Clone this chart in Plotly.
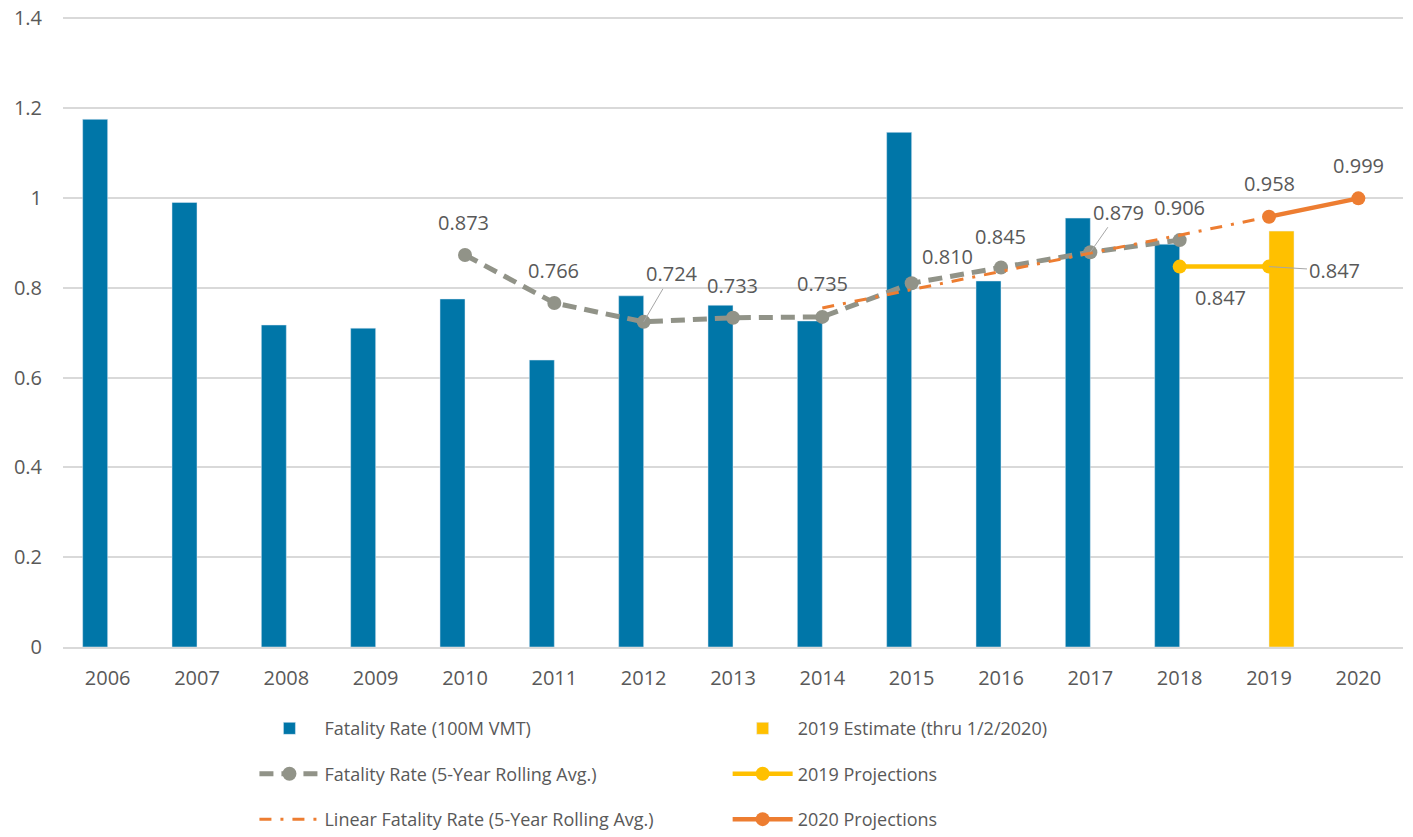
import plotly.graph_objects as go

COLOR_BLUE = "#0076A8"
COLOR_YELLOW = "#FFC000"
COLOR_ORANGE = "#ED7D31"
COLOR_GRAY = "#919388"
COLOR_TEXT = "#595959"
COLOR_GRID = "#D9D9D9"
FONT = "Open Sans"

years = [str(y) for y in range(2006, 2021)]

# annual fatality rate per 100M VMT
rate_years = [str(y) for y in range(2006, 2019)]
rate_values = [1.175, 0.990, 0.717, 0.710, 0.775, 0.639, 0.782, 0.761, 0.726,
               1.146, 0.815, 0.955, 0.897]

estimate_years = ["2019"]
estimate_values = [0.926]

rolling_years = [str(y) for y in range(2010, 2019)]
rolling_values = [0.873, 0.766, 0.724, 0.733, 0.735, 0.810, 0.845, 0.879, 0.906]

trend_years = [str(y) for y in range(2014, 2020)]
trend_values = [0.755, 0.796, 0.836, 0.877, 0.917, 0.958]

proj19_years = ["2018", "2019"]
proj19_values = [0.847, 0.847]

proj20_years = ["2019", "2020"]
proj20_values = [0.958, 0.999]

y_ticks = [0, 0.2, 0.4, 0.6, 0.8, 1.0, 1.2, 1.4]
y_tick_text = ["0", "0.2", "0.4", "0.6", "0.8", "1", "1.2", "1.4"]

BAR_W = 0.28

fig = go.Figure()

fig.add_trace(go.Bar(
    name="Fatality Rate (100M VMT)",
    x=rate_years, y=rate_values,
    width=BAR_W, offset=-BAR_W,
    marker_color=COLOR_BLUE,
    legend="legend", legendgroup="a",
))
fig.add_trace(go.Bar(
    name="2019 Estimate (thru 1/2/2020)",
    x=estimate_years, y=estimate_values,
    width=BAR_W, offset=0,
    marker_color=COLOR_YELLOW,
    legend="legend2", legendgroup="b",
))
fig.add_trace(go.Scatter(
    name="Fatality Rate (5-Year Rolling Avg.)",
    x=rolling_years, y=rolling_values,
    mode="lines+markers",
    line=dict(color=COLOR_GRAY, width=5, dash="14px,8px"),
    marker=dict(size=14, color=COLOR_GRAY),
    legend="legend", legendgroup="c",
))
fig.add_trace(go.Scatter(
    name="2019 Projections",
    x=proj19_years, y=proj19_values,
    mode="lines+markers",
    line=dict(color=COLOR_YELLOW, width=4.5),
    marker=dict(size=14, color=COLOR_YELLOW),
    legend="legend2", legendgroup="d",
))
fig.add_trace(go.Scatter(
    name="Linear Fatality Rate (5-Year Rolling Avg.)",
    x=trend_years, y=trend_values,
    mode="lines",
    line=dict(color=COLOR_ORANGE, width=3, dash="12px,9px,3px,9px"),
    legend="legend", legendgroup="e",
))
fig.add_trace(go.Scatter(
    name="2020 Projections",
    x=proj20_years, y=proj20_values,
    mode="lines+markers",
    line=dict(color=COLOR_ORANGE, width=4.5),
    marker=dict(size=14, color=COLOR_ORANGE),
    legend="legend2", legendgroup="f",
))

# data labels (year, value, dx, dy, leader line)
label_pos = [
    ("2010", 0.873, -2, -32, False),
    ("2011", 0.766, -1, -32, False),
    ("2012", 0.724, 28, -48, True),
    ("2013", 0.733, -1, -32, False),
    ("2014", 0.735, 0, -33, False),
    ("2015", 0.810, 36, -27, False),
    ("2016", 0.845, -1, -31, False),
    ("2017", 0.879, 28, -40, True),
    ("2018", 0.906, 0, -33, False),
    ("2019", 0.958, 0, -33, False),
    ("2020", 0.999, 0, -33, False),
    ("2018", 0.847, 41, 31, False),
    ("2019", 0.847, 65, 4, True),
]
for yr, val, dx, dy, leader in label_pos:
    # numeric-looking category names must be passed as index
    xi = years.index(yr)
    if leader:
        fig.add_annotation(
            x=xi, y=val, text=f"{val:.3f}", showarrow=True, arrowhead=0,
            arrowwidth=1, arrowcolor="#A6A6A6", ax=dx, ay=dy, standoff=0,
            font=dict(size=20, color=COLOR_TEXT, family=FONT),
        )
    else:
        fig.add_annotation(
            x=xi, y=val, text=f"{val:.3f}", showarrow=False,
            xshift=dx, yshift=-dy,
            font=dict(size=20, color=COLOR_TEXT, family=FONT),
        )

legend_style = dict(
    orientation="v", yanchor="top", xanchor="left",
    xref="container", yref="container",
    font=dict(size=18, color=COLOR_TEXT, family=FONT),
    tracegroupgap=19, itemwidth=60, bgcolor="rgba(0,0,0,0)",
)

# page body adds an 8px margin, so the figure is 8px smaller each way;
# y range goes a hair past 1.4 so the top gridline is not clipped away
fig.update_layout(
    width=1405, height=829,
    plot_bgcolor="white", paper_bgcolor="white",
    font=dict(family=FONT, color=COLOR_TEXT, size=20),
    margin=dict(l=55, r=10, t=8, b=190, autoexpand=False),
    showlegend=True,
    legend=dict(x=0.1754, y=0.153, **legend_style),
    legend2=dict(x=0.5122, y=0.153, **legend_style),
    xaxis=dict(
        type="category", categoryorder="array", categoryarray=years,
        range=[-0.5, len(years) - 0.5],
        showgrid=False, showline=True, linecolor=COLOR_GRID, linewidth=1.5,
        ticks="", ticklabelstandoff=12,
        tickfont=dict(size=20, color=COLOR_TEXT),
    ),
    yaxis=dict(
        range=[0, 1.405], tickmode="array",
        tickvals=y_ticks, ticktext=y_tick_text,
        ticklabeloverflow="allow",
        showgrid=True, gridcolor=COLOR_GRID,
        gridwidth=1.5, zeroline=False, showline=False, ticks="",
        ticklabelstandoff=20, tickfont=dict(size=20, color=COLOR_TEXT),
    ),
)

fig.write_html("out.html")
